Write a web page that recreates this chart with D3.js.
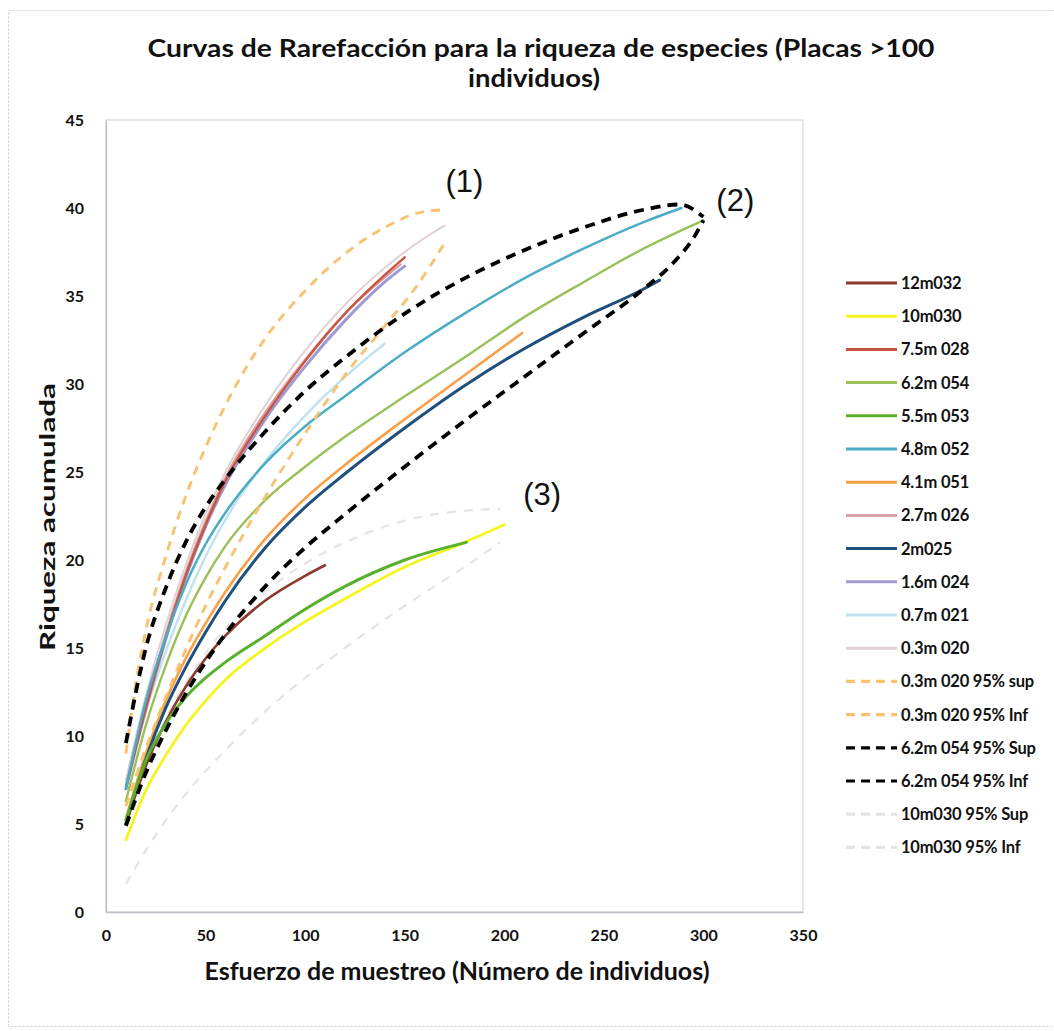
<!DOCTYPE html>
<html>
<head>
<meta charset="utf-8">
<script src="https://cdn.jsdelivr.net/npm/d3@7"></script>
<style>
  html, body { margin: 0; padding: 0; background: #ffffff; }
  svg { display: block; }
  text { font-family: Lato, "Open Sans", "DejaVu Sans", sans-serif; fill: #111; }
</style>
</head>
<body>
<svg id="chart" width="1054" height="1031"></svg>
<script>
// ---- Rarefaction curves: sampling effort (individuals) vs accumulated richness ----
const xTicks = [0, 50, 100, 150, 200, 250, 300, 350];
const yTicks = [0, 5, 10, 15, 20, 25, 30, 35, 40, 45];

const seriesNames = [
  "12m032", "10m030", "7.5m 028", "6.2m 054", "5.5m 053", "4.8m 052",
  "4.1m 051", "2.7m 026", "2m025", "1.6m 024", "0.7m 021", "0.3m 020",
  "0.3m 020 95% sup", "0.3m 020 95% Inf", "6.2m 054 95% Sup",
  "6.2m 054 95% Inf", "10m030 95% Sup", "10m030 95% Inf"
];

// sampled points of each curve (x = individuals, y = species)
const x_12m032 = [10, 20, 30, 40, 50, 60, 80, 100, 110];
const y_12m032 = [5.0, 8.3, 10.8, 12.8, 14.4, 15.7, 17.7, 19.1, 19.7];

const x_10m030 = [10, 20, 30, 40, 50, 60, 80, 100, 120, 150, 180, 200];
const y_10m030 = [4.1, 6.9, 8.9, 10.6, 12.0, 13.2, 15.0, 16.5, 17.8, 19.6, 21.0, 22.0];

const x_75m028 = [10, 20, 30, 40, 50, 60, 80, 100, 120, 140, 150];
const y_75m028 = [7.0, 11.6, 15.6, 19.1, 22.0, 24.5, 28.2, 31.3, 34.0, 36.2, 37.2];

const x_62m054 = [10, 20, 30, 40, 50, 60, 80, 100, 120, 150, 180, 210, 240, 270, 300];
const y_62m054 = [6.3, 10.6, 14.0, 16.8, 19.0, 20.8, 23.4, 25.3, 27.0, 29.3, 31.5, 33.8, 35.8, 37.7, 39.3];

const x_55m053 = [10, 20, 30, 40, 50, 60, 80, 100, 120, 150, 181];
const y_55m053 = [5.2, 8.6, 10.7, 12.2, 13.3, 14.2, 15.7, 17.2, 18.5, 20.0, 21.0];

const x_48m052 = [10, 20, 30, 40, 50, 60, 80, 100, 120, 150, 180, 210, 240, 270, 289];
const y_48m052 = [7.0, 12.0, 15.6, 18.6, 20.9, 22.7, 25.5, 27.6, 29.3, 31.8, 34.0, 36.0, 37.7, 39.2, 40.0];

const x_41m051 = [10, 20, 30, 40, 50, 60, 80, 100, 120, 150, 180, 209];
const y_41m051 = [5.3, 9.0, 12.0, 14.4, 16.4, 18.2, 21.2, 23.5, 25.4, 28.0, 30.5, 32.9];

const x_27m026 = [10, 20, 30, 40, 50, 60, 80, 100, 120, 148];
const y_27m026 = [7.2, 11.8, 15.8, 19.3, 22.2, 24.7, 28.4, 31.4, 34.0, 36.8];

const x_2m025 = [10, 20, 30, 40, 50, 60, 80, 100, 120, 150, 180, 210, 240, 270, 278];
const y_2m025 = [5.0, 8.7, 11.6, 13.9, 15.9, 17.7, 20.7, 23.0, 24.9, 27.5, 29.9, 32.0, 33.8, 35.4, 35.9];

const x_16m024 = [10, 20, 30, 40, 50, 60, 80, 100, 120, 140, 150];
const y_16m024 = [7.0, 11.5, 15.5, 19.0, 21.9, 24.3, 28.0, 31.0, 33.6, 35.8, 36.7];

const x_07m021 = [10, 20, 30, 40, 50, 60, 80, 100, 120, 140];
const y_07m021 = [7.3, 11.4, 14.8, 17.7, 20.2, 22.3, 25.6, 28.2, 30.4, 32.3];

const x_03m020 = [10, 20, 30, 40, 50, 60, 80, 100, 120, 140, 160, 170];
const y_03m020 = [7.5, 12.3, 16.3, 19.7, 22.6, 25.0, 28.8, 31.9, 34.5, 36.6, 38.3, 39.0];

const x_03m020Sup = [10, 15, 20, 30, 40, 50, 60, 80, 100, 120, 140, 160, 171];
const y_03m020Sup = [9.0, 13.0, 16.0, 20.2, 23.6, 26.4, 28.8, 32.6, 35.3, 37.4, 38.9, 39.8, 39.9];

const x_03m020Inf = [10, 20, 30, 40, 50, 60, 80, 100, 120, 140, 155, 170];
const y_03m020Inf = [6.0, 9.3, 12.2, 14.9, 17.4, 19.6, 23.6, 27.2, 30.5, 33.3, 35.4, 38.0];

const x_62m054Sup = [10, 20, 30, 40, 50, 60, 80, 100, 120, 150, 180, 210, 240, 270, 288, 300];
const y_62m054Sup = [9.6, 15.0, 18.4, 21.0, 23.0, 24.6, 27.3, 29.6, 31.5, 34.0, 36.0, 37.6, 38.9, 39.9, 40.2, 39.5];

const x_62m054Inf = [10, 20, 30, 40, 50, 60, 80, 100, 120, 150, 180, 210, 240, 270, 285, 295, 300];
const y_62m054Inf = [4.9, 7.9, 10.3, 12.4, 14.2, 15.8, 18.5, 20.7, 22.6, 25.3, 27.9, 30.4, 32.9, 35.4, 36.9, 38.3, 39.3];

const x_10m030Sup = [10, 20, 30, 40, 50, 60, 80, 100, 120, 140, 160, 180, 198];
const y_10m030Sup = [5.0, 8.5, 11.0, 13.0, 14.7, 16.1, 18.2, 19.8, 21.0, 21.9, 22.5, 22.8, 22.9];

const x_10m030Inf = [10, 20, 30, 40, 50, 60, 80, 100, 120, 150, 180, 198];
const y_10m030Inf = [1.6, 3.5, 5.2, 6.7, 8.0, 9.2, 11.4, 13.3, 15.0, 17.4, 19.6, 21.0];

// group labels placed in data coordinates
const groupLabels = ["(1)", "(2)", "(3)"];
const groupLabelX = [180, 316, 219];
const groupLabelY = [41.5, 40.4, 23.7];

// ---- drawing ----
const xsList = [x_12m032, x_10m030, x_75m028, x_62m054, x_55m053, x_48m052, x_41m051, x_27m026,
  x_2m025, x_16m024, x_07m021, x_03m020, x_03m020Sup, x_03m020Inf, x_62m054Sup, x_62m054Inf,
  x_10m030Sup, x_10m030Inf];
const ysList = [y_12m032, y_10m030, y_75m028, y_62m054, y_55m053, y_48m052, y_41m051, y_27m026,
  y_2m025, y_16m024, y_07m021, y_03m020, y_03m020Sup, y_03m020Inf, y_62m054Sup, y_62m054Inf,
  y_10m030Sup, y_10m030Inf];

// line styles, same order as the series
const styles = [
  { color: "#8c3a2c", width: 2.6, dash: null },
  { color: "#f4f41e", width: 2.8, dash: null },
  { color: "#c8553f", width: 2.4, dash: null },
  { color: "#9bc05a", width: 2.4, dash: null },
  { color: "#58b02c", width: 3.0, dash: null },
  { color: "#4bacc6", width: 2.5, dash: null },
  { color: "#f9a046", width: 2.6, dash: null },
  { color: "#d9a0a6", width: 2.2, dash: null },
  { color: "#1f4f7d", width: 3.0, dash: null },
  { color: "#a09ad2", width: 3.0, dash: null },
  { color: "#bfe3ee", width: 2.4, dash: null },
  { color: "#e0d2d2", width: 2.0, dash: null },
  { color: "#f8c270", width: 2.9, dash: "9,7" },
  { color: "#f8c270", width: 2.9, dash: "9,7" },
  { color: "#000000", width: 3.8, dash: "10,7" },
  { color: "#000000", width: 3.8, dash: "10,7" },
  { color: "#e4e4e4", width: 2.2, dash: "9,8" },
  { color: "#e4e4e4", width: 2.2, dash: "9,8" }
];

// draw order: faint lines first, bold ones on top
const drawOrder = [16, 17, 11, 10, 7, 9, 2, 5, 3, 6, 8, 0, 1, 4, 12, 13, 14, 15];

const svg = d3.select("#chart");

// outer chart frame
svg.append("rect")
  .attr("x", 8.5).attr("y", 10.5).attr("width", 1060).attr("height", 1016)
  .attr("fill", "none").attr("stroke", "#c9d0d6").attr("stroke-width", 1)
  .attr("stroke-dasharray", "2,2");

const x = d3.scaleLinear().domain([0, 350]).range([106, 803]);
const y = d3.scaleLinear().domain([0, 45]).range([912, 120]);

// plot area frame
svg.append("rect")
  .attr("x", x(0)).attr("y", y(45)).attr("width", x(350) - x(0)).attr("height", y(0) - y(45))
  .attr("fill", "none").attr("stroke", "#cdd8df").attr("stroke-width", 1.2);

// axes (labels only, light axis lines)
const xAxis = d3.axisBottom(x).tickValues(xTicks).tickSize(0).tickPadding(18);
const yAxis = d3.axisLeft(y).tickValues(yTicks).tickSize(0).tickPadding(22);

const gx = svg.append("g").attr("transform", `translate(0,${y(0)})`).call(xAxis);
const gy = svg.append("g").attr("transform", `translate(${x(0)},0)`).call(yAxis);
[gx, gy].forEach(g => {
  g.select(".domain").attr("stroke", "#b8bec4").attr("stroke-width", 1.3);
  g.selectAll("text").attr("font-size", 16).attr("font-weight", 700).attr("fill", "#111")
    .style("font-family", "Lato, sans-serif");
});

// curves
const line = d3.line().x(d => x(d[0])).y(d => y(d[1])).curve(d3.curveMonotoneX);
const curves = svg.append("g");
drawOrder.forEach(i => {
  const pts = xsList[i].map((v, k) => [v, ysList[i][k]]);
  const s = styles[i];
  curves.append("path")
    .attr("d", line(pts))
    .attr("fill", "none")
    .attr("stroke", s.color)
    .attr("stroke-width", s.width)
    .attr("stroke-linecap", s.dash ? "butt" : "round")
    .attr("stroke-dasharray", s.dash);
});

// group labels
groupLabels.forEach((t, i) => {
  svg.append("text")
    .attr("x", x(groupLabelX[i])).attr("y", y(groupLabelY[i]))
    .attr("text-anchor", "middle").attr("dominant-baseline", "central")
    .attr("font-size", 31)
    .style("font-family", "'Liberation Sans', Arial, sans-serif")
    .text(t);
});

// titles
svg.append("text").attr("x", 541).attr("y", 57).attr("text-anchor", "middle")
  .attr("font-size", 24).attr("font-weight", 700)
  .attr("textLength", 787).attr("lengthAdjust", "spacingAndGlyphs")
  .text("Curvas de Rarefacción para la riqueza de especies (Placas >100");
svg.append("text").attr("x", 534).attr("y", 87).attr("text-anchor", "middle")
  .attr("font-size", 24).attr("font-weight", 700)
  .attr("textLength", 132).attr("lengthAdjust", "spacingAndGlyphs")
  .text("individuos)");

svg.append("text").attr("x", 457).attr("y", 980).attr("text-anchor", "middle")
  .attr("font-size", 24).attr("font-weight", 700)
  .attr("textLength", 505).attr("lengthAdjust", "spacingAndGlyphs")
  .text("Esfuerzo de muestreo (Número de individuos)");

svg.append("text").attr("transform", "translate(55,517) rotate(-90)")
  .attr("text-anchor", "middle").attr("font-size", 21).attr("font-weight", 700)
  .attr("textLength", 268).attr("lengthAdjust", "spacingAndGlyphs")
  .text("Riqueza acumulada");

// legend
const legend = svg.append("g");
seriesNames.forEach((name, i) => {
  const ly = 283 + i * 33.2;
  const s = styles[i];
  legend.append("line")
    .attr("x1", 846).attr("x2", 897).attr("y1", ly).attr("y2", ly)
    .attr("stroke", s.color).attr("stroke-width", s.dash ? 3.2 : 3)
    .attr("stroke-dasharray", s.dash ? "9,6" : null);
  legend.append("text")
    .attr("x", 901).attr("y", ly).attr("dominant-baseline", "central")
    .attr("font-size", 16.5).attr("font-weight", 700).attr("letter-spacing", -0.2)
    .text(name);
});
</script>
</body>
</html>
